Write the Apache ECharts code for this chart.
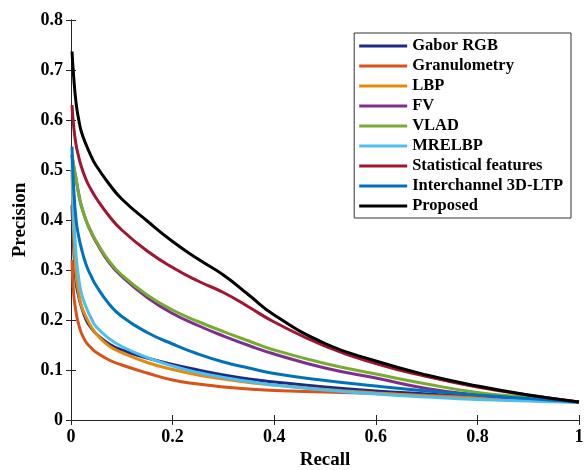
<!DOCTYPE html>
<html>
<head>
<meta charset="utf-8">
<script src="https://cdn.jsdelivr.net/npm/echarts@6/dist/echarts.min.js"></script>
<style>
  html, body { margin: 0; padding: 0; background: #fff; }
  #main { width: 584px; height: 470px; }
</style>
</head>
<body>
<div id="main"></div>
<script>
// recall sample points (x)
var recall = [0.002, 0.005, 0.01, 0.015, 0.02, 0.03, 0.04, 0.05, 0.075, 0.1, 0.15, 0.2, 0.25, 0.3, 0.35, 0.4, 0.5, 0.6, 0.7, 0.8, 0.9, 1.0];

// precision values, one array per method
var gaborRGB      = [0.43, 0.35, 0.275, 0.248, 0.228, 0.2, 0.184, 0.172, 0.152, 0.14, 0.124, 0.111, 0.1, 0.09, 0.082, 0.076, 0.066, 0.058, 0.052, 0.046, 0.041, 0.036];
var granulometry  = [0.32, 0.255, 0.215, 0.192, 0.175, 0.155, 0.144, 0.135, 0.12, 0.11, 0.094, 0.08, 0.072, 0.066, 0.062, 0.059, 0.056, 0.053, 0.049, 0.045, 0.04, 0.036];
var lbp           = [0.5, 0.38, 0.29, 0.255, 0.23, 0.205, 0.186, 0.172, 0.148, 0.135, 0.115, 0.101, 0.09, 0.082, 0.075, 0.07, 0.061, 0.054, 0.048, 0.043, 0.039, 0.036];
var fv            = [0.53, 0.51, 0.482, 0.453, 0.43, 0.398, 0.375, 0.355, 0.315, 0.287, 0.245, 0.213, 0.189, 0.168, 0.149, 0.132, 0.104, 0.084, 0.063, 0.05, 0.042, 0.036];
var vlad          = [0.53, 0.51, 0.482, 0.453, 0.43, 0.398, 0.376, 0.357, 0.318, 0.29, 0.25, 0.22, 0.197, 0.177, 0.158, 0.14, 0.113, 0.092, 0.072, 0.055, 0.045, 0.036];
var mrelbp        = [0.53, 0.42, 0.33, 0.285, 0.255, 0.225, 0.203, 0.186, 0.163, 0.147, 0.125, 0.108, 0.095, 0.085, 0.077, 0.07, 0.06, 0.052, 0.046, 0.041, 0.038, 0.035];
var statistical   = [0.63, 0.59, 0.55, 0.527, 0.508, 0.48, 0.46, 0.443, 0.408, 0.38, 0.338, 0.305, 0.278, 0.255, 0.226, 0.196, 0.148, 0.113, 0.087, 0.066, 0.05, 0.036];
var interchannel  = [0.547, 0.47, 0.4, 0.368, 0.345, 0.31, 0.287, 0.268, 0.232, 0.207, 0.175, 0.152, 0.132, 0.116, 0.104, 0.093, 0.079, 0.068, 0.058, 0.05, 0.043, 0.036];
var proposed      = [0.737, 0.69, 0.634, 0.602, 0.578, 0.55, 0.527, 0.508, 0.472, 0.442, 0.398, 0.357, 0.322, 0.29, 0.25, 0.21, 0.153, 0.118, 0.09, 0.068, 0.05, 0.036];

var names  = ['Gabor RGB', 'Granulometry', 'LBP', 'FV', 'VLAD', 'MRELBP', 'Statistical features', 'Interchannel 3D-LTP', 'Proposed'];
var values = [gaborRGB, granulometry, lbp, fv, vlad, mrelbp, statistical, interchannel, proposed];
var colors = ['#1c2b87', '#D95319', '#E58A0F', '#7E2F8E', '#77AC30', '#4DBEEE', '#A2142F', '#0072BD', '#000000'];

var font = 'Liberation Serif, Times New Roman, serif';

function pairs(ys) {
  var out = [];
  for (var i = 0; i < recall.length; i++) {
    out.push([recall[i], ys[i]]);
  }
  return out;
}

var series = [];
for (var i = 0; i < names.length; i++) {
  series.push({
    name: names[i],
    type: 'line',
    data: pairs(values[i]),
    smooth: 0.5,
    symbol: 'none',
    lineStyle: { width: 3, color: colors[i] },
    itemStyle: { color: colors[i] }
  });
}

var tickStyle = { show: true, inside: true, length: 5, lineStyle: { color: '#262626' } };
var lineStyle = { show: true, lineStyle: { color: '#262626', width: 1 } };
var labelStyle = { fontFamily: font, fontWeight: 'bold', fontSize: 18, color: '#000' };
var nameStyle = { fontFamily: font, fontWeight: 'bold', fontSize: 19, color: '#000' };

var chart = echarts.init(document.getElementById('main'));
var option = {
  animation: false,
  backgroundColor: '#fff',
  grid: { left: 71, right: 5, top: 20, bottom: 50, containLabel: false, outerBoundsMode: 'none' },
  legend: {
    orient: 'vertical',
    right: 13,
    top: 33,
    data: names,
    icon: 'rect',
    itemWidth: 48,
    itemHeight: 3,
    itemGap: 2,
    padding: [4, 8, 3, 5],
    backgroundColor: '#fff',
    borderColor: '#333',
    borderWidth: 1,
    textStyle: { fontFamily: font, fontWeight: 'bold', fontSize: 16.5, color: '#000', lineHeight: 18 }
  },
  xAxis: [{
    type: 'value',
    min: 0, max: 1, interval: 0.2,
    name: 'Recall',
    nameLocation: 'middle',
    nameGap: 27,
    nameTextStyle: nameStyle,
    axisLine: lineStyle,
    axisTick: tickStyle,
    axisLabel: Object.assign({ margin: 8 }, labelStyle),
    splitLine: { show: false }
  }, {
    type: 'value',
    position: 'top',
    min: 0, max: 1, interval: 0.2,
    axisLine: lineStyle,
    axisTick: tickStyle,
    axisLabel: { show: false },
    splitLine: { show: false }
  }],
  yAxis: [{
    type: 'value',
    min: 0, max: 0.8, interval: 0.1,
    name: 'Precision',
    nameLocation: 'middle',
    nameGap: 27,
    nameTextStyle: nameStyle,
    axisLine: lineStyle,
    axisTick: tickStyle,
    axisLabel: Object.assign({ margin: 8 }, labelStyle),
    splitLine: { show: false }
  }, {
    type: 'value',
    position: 'right',
    min: 0, max: 0.8, interval: 0.1,
    axisLine: lineStyle,
    axisTick: tickStyle,
    axisLabel: { show: false },
    splitLine: { show: false }
  }],
  series: series
};
chart.setOption(option);
</script>
</body>
</html>
